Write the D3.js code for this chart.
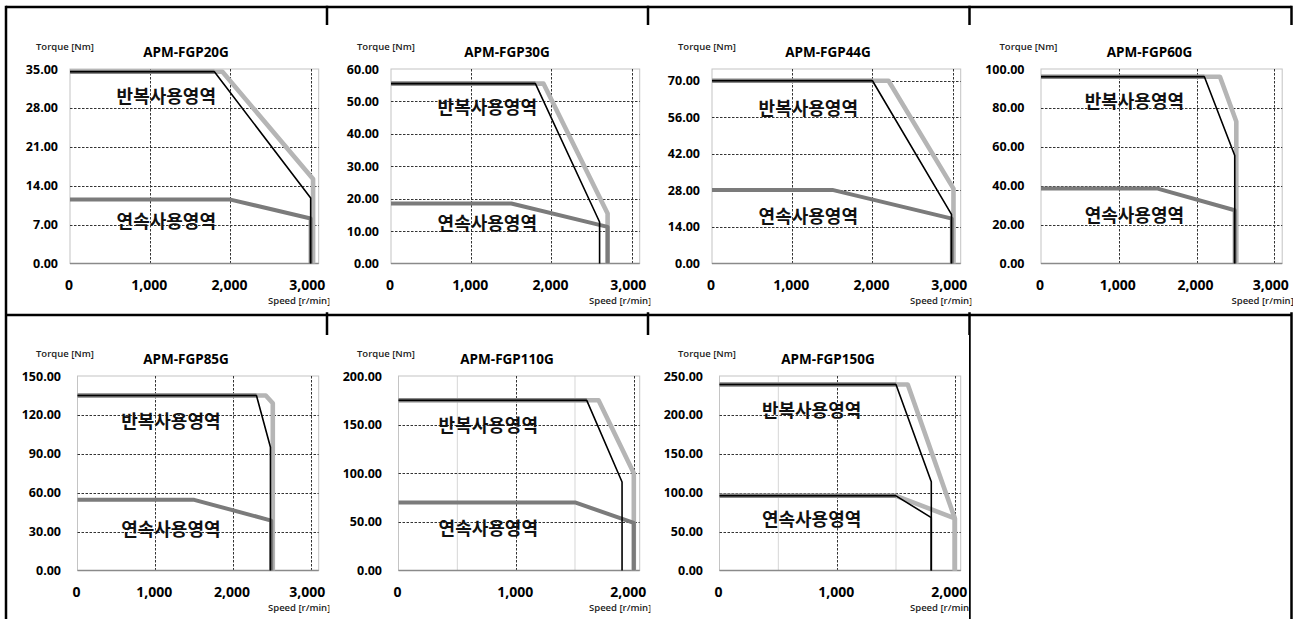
<!DOCTYPE html>
<html><head><meta charset="utf-8">
<script src="https://cdn.jsdelivr.net/npm/d3@7"></script>
<style>
body{margin:0;background:#fff;}
svg{display:block;}
.lat{font-family:"Open Sans","Noto Sans",sans-serif;}
.kr{font-family:"Noto Sans CJK KR",sans-serif;}
</style>
</head><body>
<svg id="c" width="1297" height="619"></svg>
<script>
// ---------------- DATA ----------------
const models = ["APM-FGP20G","APM-FGP30G","APM-FGP44G","APM-FGP60G","APM-FGP85G","APM-FGP110G","APM-FGP150G"];
const speedMax = [3100,3100,3100,3100,3100,2050,2050];
const torqueMax = [35,60,74.5,100,150,200,250];
const torqueTickTop = [35,60,70,100,150,200,250];
const torqueStep = [7,10,14,20,30,50,50];
const speedTicks = [[0,1000,2000,3000],[0,1000,2000,3000],[0,1000,2000,3000],[0,1000,2000,3000],[0,1000,2000,3000],[0,1000,2000],[0,1000,2000]];
const speedMinorTicks = [[],[],[],[],[],[500,1500],[500,1500]];
const yAxisTitle = "Torque [Nm]";
const xAxisTitle = "Speed [r/min]";
const regionNames = ["반복사용영역","연속사용영역"];

// peak torque envelope (light grey)
const peakCurve = [
  [[0,34.5],[1900,34.5],[3030,15.2],[3030,0]],
  [[0,55.5],[1900,55.5],[2700,15.4],[2700,0]],
  [[0,70],[2200,70],[3010,28.7],[3010,0]],
  [[0,96],[2300,96],[2510,73],[2510,0]],
  [[0,135],[2420,135],[2510,129],[2510,0]],
  [[0,175],[1700,175],[2000,100],[2000,0]],
  [[0,239],[1600,239],[2000,67],[2000,0]]
];
// continuous torque envelope
const continuousCurve = [
  [[0,11.5],[2000,11.5],[3000,8.1],[3000,0]],
  [[0,18.5],[1500,18.5],[2700,11.3],[2700,0]],
  [[0,28.2],[1500,28.2],[2990,17.2],[2990,0]],
  [[0,38.5],[1500,38.5],[2490,27.4],[2490,0]],
  [[0,54.5],[1500,54.5],[2490,38.5],[2490,0]],
  [[0,70],[1500,70],[2000,49],[2000,0]],
  [[0,96],[1500,96],[2000,67],[2000,0]]
];
// rated-voltage peak curve (thin black)
const ratedPeakCurve = [
  [[0,34.5],[1800,34.5],[3000,11.8],[3000,0]],
  [[0,55.5],[1800,55.5],[2600,12.8],[2600,0]],
  [[0,70],[2000,70],[2985,18.8],[2985,0]],
  [[0,96],[2100,96],[2490,55.5],[2490,0]],
  [[0,135],[2300,135],[2480,95],[2480,0]],
  [[0,175],[1600,175],[1900,91],[1900,0]],
  [[0,239],[1500,239],[1800,114],[1800,0]]
];
// rated-voltage continuous curve (thin black, only where shown)
const ratedContCurve = [null,null,null,null,null,null,
  [[0,96],[1500,96],[1800,68],[1800,0]]
];
// region label anchors (data coordinates)
const regionLabelAt = [
  [[1200,30.3],[1200,7.8]],
  [[1200,48.6],[1200,12.8]],
  [[1200,59.9],[1200,18.5]],
  [[1200,84],[1200,25.7]],
  [[1200,116],[1200,32.6]],
  [[763,151],[763,45]],
  [[783,208],[783,67]]
];

// ---------------- LAYOUT / STYLE ----------------
const colLeft = [6,327,648,969.5];
const rightEdge = 1291.5;
const rowTop = [7,315];
const plotTopRow = [69,376];
const plotH = 194.5;
const contStyle = ["dark","dark","dark","dark","dark","dark","light"];
const styles = {
  light:{stroke:"#b5b5b5",w:4.6},
  dark:{stroke:"#7b7b7b",w:4},
  black:{stroke:"#000",w:1.6}
};

const svg = d3.select("#c");

// table borders
const border = svg.append("g").attr("stroke","#000").attr("stroke-width",2.5);
border.append("line").attr("x1",colLeft[0]).attr("x2",rightEdge).attr("y1",rowTop[0]).attr("y2",rowTop[0]);
border.append("line").attr("x1",colLeft[0]).attr("x2",rightEdge).attr("y1",rowTop[1]).attr("y2",rowTop[1]);
[...colLeft, rightEdge].forEach(x=>{
  border.append("line").attr("x1",x).attr("x2",x).attr("y1",rowTop[0]-1.25).attr("y2",625);
});

const defs = svg.append("defs");

models.forEach((name,i)=>{
  const col = i%4, row = Math.floor(i/4);
  const cL = colLeft[col], cT = rowTop[row];
  const imgX = cL+14, imgY = cT + (row ? 20 : 18);
  const imgR = (i===6) ? 969 : cL+323.5;
  const imgB = row ? 625 : 312.5;
  defs.append("clipPath").attr("id","clip"+i).append("rect")
    .attr("x",imgX).attr("y",imgY).attr("width",imgR-imgX).attr("height",imgB-imgY);
  const g = svg.append("g").attr("clip-path",`url(#clip${i})`);
  g.append("rect").attr("x",imgX).attr("y",imgY).attr("width",imgR-imgX).attr("height",imgB-imgY).attr("fill","#fff");

  const wide = torqueMax[i] >= 100;
  const pL = cL + (wide ? 71.5 : 64);
  const pR = cL + 312.7;
  const pT = plotTopRow[row];
  const pB = pT + plotH;
  const x = d3.scaleLinear().domain([0,speedMax[i]]).range([pL,pR]);
  const y = d3.scaleLinear().domain([0,torqueMax[i]]).range([pB,pT]);
  const yTicks = d3.range(0, torqueTickTop[i]+1e-6, torqueStep[i]);

  // minor vertical grid
  g.append("g").selectAll("line").data(speedMinorTicks[i]).join("line")
    .attr("x1",d=>x(d)).attr("x2",d=>x(d)).attr("y1",pT).attr("y2",pB)
    .attr("stroke","#d6d6d6").attr("stroke-width",1);
  // plot border
  g.append("rect").attr("x",pL).attr("y",pT).attr("width",pR-pL).attr("height",pB-pT)
    .attr("fill","none").attr("stroke","#c4c4c4").attr("stroke-width",1);
  // major grid
  g.append("g").selectAll("line").data(yTicks.filter(v=>v>0 && Math.abs(v-torqueMax[i])>1e-6)).join("line")
    .attr("x1",pL).attr("x2",pR).attr("y1",d=>Math.round(y(d))+0.5).attr("y2",d=>Math.round(y(d))+0.5)
    .attr("stroke","#333").attr("stroke-width",1).attr("stroke-dasharray","2.5,1.5");
  g.append("g").selectAll("line").data(speedTicks[i].filter(v=>v>0)).join("line")
    .attr("x1",d=>Math.round(x(d))+0.5).attr("x2",d=>Math.round(x(d))+0.5).attr("y1",pT).attr("y2",pB)
    .attr("stroke","#333").attr("stroke-width",1).attr("stroke-dasharray","2.5,1.5");
  // bottom axis line
  g.append("line").attr("x1",pL).attr("x2",pR).attr("y1",pB).attr("y2",pB)
    .attr("stroke","#8a8a8a").attr("stroke-width",1.6);

  // curves
  const line = d3.line().x(d=>x(d[0])).y(d=>y(d[1]));
  const draw = (pts,st)=>{
    if(!pts) return;
    g.append("path").attr("d",line(pts)).attr("fill","none")
      .attr("stroke",styles[st].stroke).attr("stroke-width",styles[st].w)
      .attr("stroke-linejoin","round");
  };
  draw(peakCurve[i],"light");
  draw(continuousCurve[i],contStyle[i]);
  // flat part of rated curves appears as a dark thick band
  [ratedPeakCurve[i], ratedContCurve[i]].forEach(c=>{ if(c) draw(c.slice(0,2),"dark"); });
  draw(ratedPeakCurve[i],"black");
  draw(ratedContCurve[i],"black");

  // y axis labels
  const yAx = d3.axisLeft(y).tickValues(yTicks).tickFormat(d3.format(".2f")).tickSize(0).tickPadding(wide?16.5:12);
  const ya = g.append("g").attr("transform",`translate(${pL},0)`).call(yAx);
  ya.select(".domain").remove();
  ya.selectAll("text").attr("class","lat").attr("font-size",12.5).attr("font-weight","bold").attr("fill","#000");

  // x axis labels
  const xAx = d3.axisBottom(x).tickValues(speedTicks[i]).tickFormat(d3.format(",")).tickSize(0).tickPadding(16.5);
  const xa = g.append("g").attr("transform",`translate(0,${pB})`).call(xAx);
  xa.select(".domain").remove();
  xa.selectAll("text").attr("class","lat").attr("font-size",14).attr("font-weight","bold").attr("fill","#000").attr("x",-1.5);
  xa.selectAll(".tick").each(function(d){
    const t = d3.select(this).select("text");
    const w = t.node().getComputedTextLength();
    if (x(d) + w/2 > pR + 6) {
      t.attr("text-anchor","end").attr("x", pR + 6 - x(d));
    }
  });

  // titles
  g.append("text").attr("class","lat").attr("x",cL+30).attr("y",pT-19)
    .attr("font-size",9.5).attr("font-weight",600).attr("fill","#222").text(yAxisTitle);
  g.append("text").attr("class","lat").attr("x",cL+180).attr("y",pT-12.5).attr("text-anchor","middle")
    .attr("font-size",13.5).attr("font-weight","bold").attr("fill","#000").text(name);
  g.append("text").attr("class","lat").attr("x",cL+262).attr("y",pB+40.5)
    .attr("font-size",9.5).attr("font-weight",600).attr("fill","#222").text(xAxisTitle);

  // region labels
  regionNames.forEach((lab,k)=>{
    const a = regionLabelAt[i][k];
    g.append("text").attr("class","kr").attr("x",x(a[0])).attr("y",y(a[1]))
      .attr("text-anchor","middle").attr("dominant-baseline","central")
      .attr("font-size",18).attr("font-weight","bold").attr("fill","#111").text(lab);
  });
});
</script>
</body></html>
